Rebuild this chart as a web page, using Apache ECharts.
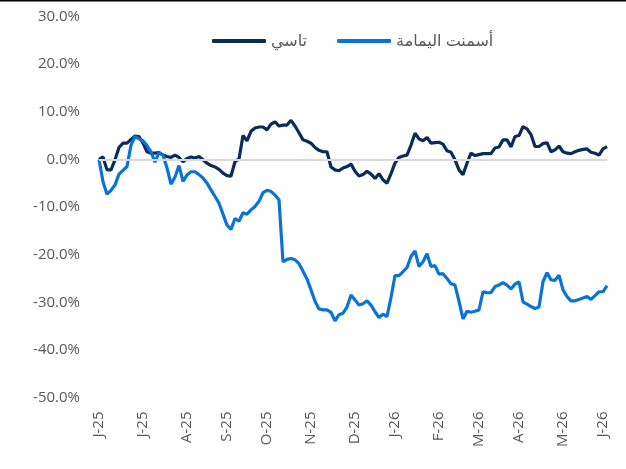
<!DOCTYPE html>
<html lang="ar">
<head>
    <meta charset="UTF-8">
    <script src="https://cdn.jsdelivr.net/npm/echarts@6/dist/echarts.min.js"></script>
    <style>
        html, body { margin: 0; padding: 0; background: #fff; }
        #chart { width: 626px; height: 469px; }
    </style>
</head>
<body>
<div id="chart"></div>
<script type="text/javascript">
    // month tick labels and the point index where each one sits
    var monthLabels = ['J-25', 'J-25', 'A-25', 'S-25', 'O-25', 'N-25', 'D-25', 'J-26', 'F-26', 'M-26', 'A-26', 'M-26', 'J-26'];
    var monthIdx = [0, 11, 22, 32, 42, 53, 64, 74, 85, 95, 105, 116, 126];

    var seriesNames = ['تاسي', 'أسمنت اليمامة'];

    // relative performance, %
    var tasi = [
        0, 0.5, -2.2, -2.2, -0.1, 2.5, 3.4, 3.4, 4.2, 4.9,
        4.8, 3.4, 1.6, 1.3, 1.3, 1.4, 0.9, 0.6, 0.4, 0.9,
        0.4, -0.5, 0.2, 0.5, 0.3, 0.6, -0.1, -0.8, -1.3, -1.6,
        -2.1, -2.9, -3.4, -3.5, -0.5, 0.1, 5.0, 3.9, 5.9, 6.6,
        6.8, 6.8, 6.2, 7.4, 7.9, 7.0, 7.2, 7.2, 8.2, 7.0,
        5.6, 4.1, 3.8, 3.4, 2.5, 1.9, 1.6, 1.6, -1.6, -2.2,
        -2.4, -1.8, -1.5, -1.0, -2.5, -3.5, -3.2, -2.5, -3.1, -4.0,
        -3.0, -4.3, -5.0, -3.0, -0.8, 0.4, 0.7, 0.9, 3.0, 5.5,
        4.3, 3.9, 4.6, 3.4, 3.5, 3.6, 3.2, 1.8, 1.5, -0.1,
        -2.2, -3.2, -0.8, 1.3, 0.8, 1.0, 1.2, 1.2, 1.2, 2.4,
        2.6, 4.1, 4.1, 2.6, 4.8, 5.0, 6.9, 6.4, 5.2, 2.7,
        2.7, 3.3, 3.5, 1.6, 2.0, 2.8, 1.6, 1.3, 1.2, 1.6,
        1.9, 2.1, 2.2, 1.5, 1.3, 0.9, 2.2, 2.7
    ];
    var yamama = [
        0, -4.7, -7.3, -6.5, -5.4, -3.1, -2.3, -1.5, 3.0, 4.8,
        4.3, 3.9, 2.9, 1.6, -0.6, 1.4, 0.9, -1.8, -5.2, -3.7,
        -1.3, -4.6, -3.3, -2.6, -2.6, -3.2, -3.9, -5.0, -6.4, -7.8,
        -9.2, -11.5, -13.8, -14.7, -12.4, -13.0, -11.2, -11.5, -10.6, -9.9,
        -8.8, -7.0, -6.5, -6.7, -7.5, -8.5, -21.5, -21.0, -20.8, -21.1,
        -21.9, -23.5, -25.1, -27.4, -29.8, -31.4, -31.6, -31.6, -32.1, -33.9,
        -32.6, -32.3, -31.0, -28.5, -29.5, -30.6, -30.3, -29.7, -30.6, -32.0,
        -33.2, -32.5, -33.0, -29.0, -24.4, -24.4, -23.6, -22.7, -20.4, -19.2,
        -22.5, -21.5, -19.8, -22.5, -22.3, -24.1, -24.0, -25.0, -26.1, -26.4,
        -29.8, -33.5, -31.9, -32.1, -31.9, -31.6, -27.8, -28.0, -28.0, -26.7,
        -26.4, -25.9, -26.4, -27.2, -26.2, -25.7, -29.9, -30.4, -30.9, -31.3,
        -31.0, -25.7, -23.8, -25.3, -25.4, -24.3, -27.4, -28.8, -29.7, -29.7,
        -29.4, -29.1, -28.8, -29.4, -28.6, -27.8, -27.8, -26.5
    ];

    var categories = tasi.map(function (v, i) {
        var k = monthIdx.indexOf(i);
        return k >= 0 ? monthLabels[k] : '';
    });

    var textColor = '#595959';
    var font = "'Open Sans', 'DejaVu Sans', sans-serif";

    var chart = echarts.init(document.getElementById('chart'), null, {renderer: 'canvas'});
    chart.setOption({
        animation: false,
        backgroundColor: '#fff',
        graphic: [{
            type: 'rect',
            shape: {x: 0, y: 0, width: 626, height: 1.5},
            style: {fill: '#000'}
        }],
        legend: {
            left: 207,
            top: 28,
            itemWidth: 54,
            itemHeight: 4,
            itemGap: 30,
            icon: 'roundRect',
            data: seriesNames,
            textStyle: {color: textColor, fontSize: 16, fontFamily: font}
        },
        grid: {left: 99, right: 19, top: 16.5, bottom: 71.5},
        xAxis: {
            type: 'category',
            data: categories,
            boundaryGap: false,
            axisLine: {show: false},
            axisTick: {show: false},
            axisLabel: {
                rotate: 90,
                margin: 14,
                color: textColor,
                fontSize: 15,
                fontFamily: font,
                interval: function (i) { return monthIdx.indexOf(i) >= 0; }
            }
        },
        yAxis: {
            type: 'value',
            min: -50,
            max: 30,
            interval: 10,
            axisLine: {show: false},
            axisTick: {show: false},
            splitLine: {show: false},
            axisLabel: {
                margin: 19,
                color: textColor,
                fontSize: 15,
                fontFamily: font,
                formatter: function (v) { return v.toFixed(1) + '%'; }
            }
        },
        series: [{
            name: seriesNames[0],
            type: 'line',
            data: tasi,
            symbol: 'none',
            color: '#0B2C5A',
            lineStyle: {width: 3.2, color: '#0B2C5A'},
            markLine: {
                silent: true,
                symbol: 'none',
                label: {show: false},
                lineStyle: {color: '#D9D9D9', width: 2, type: 'solid'},
                data: [{yAxis: 0}]
            }
        }, {
            name: seriesNames[1],
            type: 'line',
            data: yamama,
            symbol: 'none',
            color: '#0B73D6',
            lineStyle: {width: 3.2, color: '#0B73D6'}
        }]
    });
</script>
</body>
</html>
